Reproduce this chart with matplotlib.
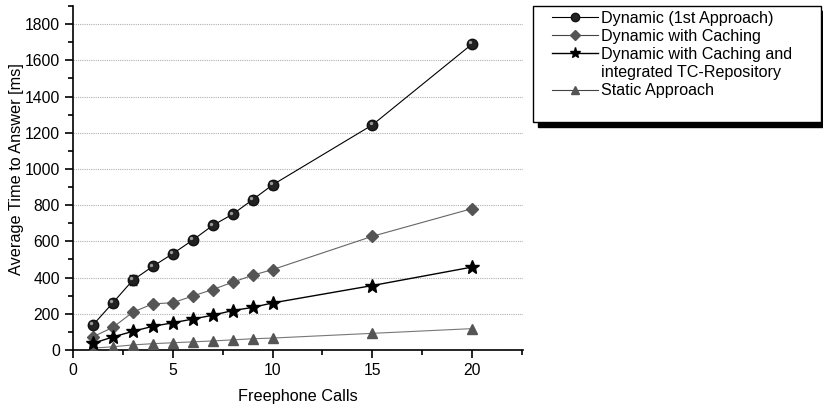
import matplotlib
matplotlib.use("Agg")
import matplotlib.pyplot as plt
from matplotlib.lines import Line2D
from matplotlib.patches import Rectangle
from matplotlib.ticker import MultipleLocator
from matplotlib.transforms import offset_copy

plt.rcParams['font.family'] = ['Liberation Sans', 'DejaVu Sans']

calls = [1, 2, 3, 4, 5, 6, 7, 8, 9, 10, 15, 20]
dynamic = [138, 261, 386, 462, 532, 607, 688, 750, 830, 912, 1243, 1690]
dynamic_err = [8, 22, 28, 12, 20, 12, 10, 10, 18, 22, 8, 10]
caching = [73, 125, 209, 255, 261, 298, 334, 374, 413, 444, 628, 781]
caching_tc = [37, 72, 103, 131, 150, 171, 192, 218, 235, 260, 356, 458]
static = [10, 18, 28, 35, 40, 45, 50, 56, 62, 66, 92, 118]
static_err = [6, 6, 5, 5, 5, 5, 5, 5, 5, 5, 5, 6]

labels = ["Dynamic (1st Approach)", "Dynamic with Caching",
          "Dynamic with Caching and", "integrated TC-Repository",
          "Static Approach"]

W, H = 823, 404
fig = plt.figure(figsize=(W / 100, H / 100), dpi=100)
ax = fig.add_axes([73 / W, 1 - 350 / H, (523 - 73) / W, (350 - 6) / H])

ax.set_xlim(0, 22.55)
ax.set_ylim(0, 1900)

ax.yaxis.grid(True, which='major', color='#b0b0b0', linestyle=(0, (1, 1)), linewidth=0.8)
ax.set_axisbelow(True)

ax.errorbar(calls, dynamic, yerr=dynamic_err, color='black', linewidth=0.8,
            marker='o', markersize=7.5, markerfacecolor='#222222',
            markeredgecolor='#111111', ecolor='#222222', elinewidth=1,
            capsize=3, zorder=5)
# highlight on spheres
hl = offset_copy(ax.transData, fig=fig, x=-1.2, y=1.2, units='points')
ax.plot(calls, dynamic, linestyle='none', marker='o', markersize=2.4,
        markerfacecolor='#9a9a9a', markeredgecolor='none', zorder=6, transform=hl)
ax.plot(calls, caching, color='#666666', linewidth=0.8, marker='D',
        markersize=6.5, markerfacecolor='#555555', markeredgecolor='#555555', zorder=4)
ax.plot(calls, caching_tc, color='black', linewidth=1.0, marker='*',
        markersize=10, markerfacecolor='black', markeredgecolor='black', zorder=4)
ax.errorbar(calls, static, yerr=static_err, color='#777777', linewidth=0.8,
            marker='^', markersize=7, markerfacecolor='#555555',
            markeredgecolor='#555555', ecolor='#777777', elinewidth=1,
            capsize=0, zorder=3)

for s in ['top', 'right']:
    ax.spines[s].set_visible(False)
for s in ['left', 'bottom']:
    ax.spines[s].set_linewidth(1.2)

ax.xaxis.set_major_locator(MultipleLocator(5))
ax.xaxis.set_minor_locator(MultipleLocator(2.5))
ax.yaxis.set_major_locator(MultipleLocator(200))
ax.yaxis.set_minor_locator(MultipleLocator(100))
ax.set_yticks(range(0, 1801, 200))
ax.tick_params(which='major', direction='out', length=6, width=1.2, labelsize=11.3)
ax.tick_params(which='minor', direction='out', length=3.5, width=1.2)

ax.set_xlabel("Freephone Calls", fontsize=11.7, labelpad=8)
ax.set_ylabel("Average Time to Answer [ms]", fontsize=11.7)
ax.yaxis.set_label_coords(-0.108, (350 - 169) / 344)

blank = Line2D([], [], linestyle='none', marker='none')
h1 = Line2D([], [], color='black', linewidth=0.8, marker='o', markersize=6,
            markerfacecolor='#222222', markeredgecolor='#111111')
h2 = Line2D([], [], color='#444444', linewidth=0.8, marker='D', markersize=5.5,
            markerfacecolor='#555555', markeredgecolor='#555555')
h3 = Line2D([], [], color='black', linewidth=1.0, marker='*', markersize=8,
            markerfacecolor='black', markeredgecolor='black')
h4 = Line2D([], [], color='#444444', linewidth=0.8, marker='^', markersize=6,
            markerfacecolor='#555555', markeredgecolor='#555555')

# shadow
bx0, by0, bx1, by1 = 533, 6, 821, 122
fig.patches.append(Rectangle(((bx0 + 5) / W, 1 - (by1 + 5) / H), (bx1 - bx0) / W,
                             (by1 - by0) / H, transform=fig.transFigure,
                             facecolor='black', edgecolor='black', zorder=1))
leg = fig.legend([h1, h2, h3, blank, h4], labels,
                 loc='upper left', bbox_to_anchor=((bx0 + 19) / W, 1 - (by0 + 4.5) / H),
                 frameon=False, fontsize=11.6, handlelength=2.85, handletextpad=0.2,
                 labelspacing=0.2, borderaxespad=0, borderpad=0.0)
fig.patches.append(Rectangle((bx0 / W, 1 - by1 / H), (bx1 - bx0) / W,
                             (by1 - by0) / H, transform=fig.transFigure,
                             facecolor='white', edgecolor='black', linewidth=1.0, zorder=2))
leg.set_zorder(5)

fig.savefig("out.png", dpi=100)
